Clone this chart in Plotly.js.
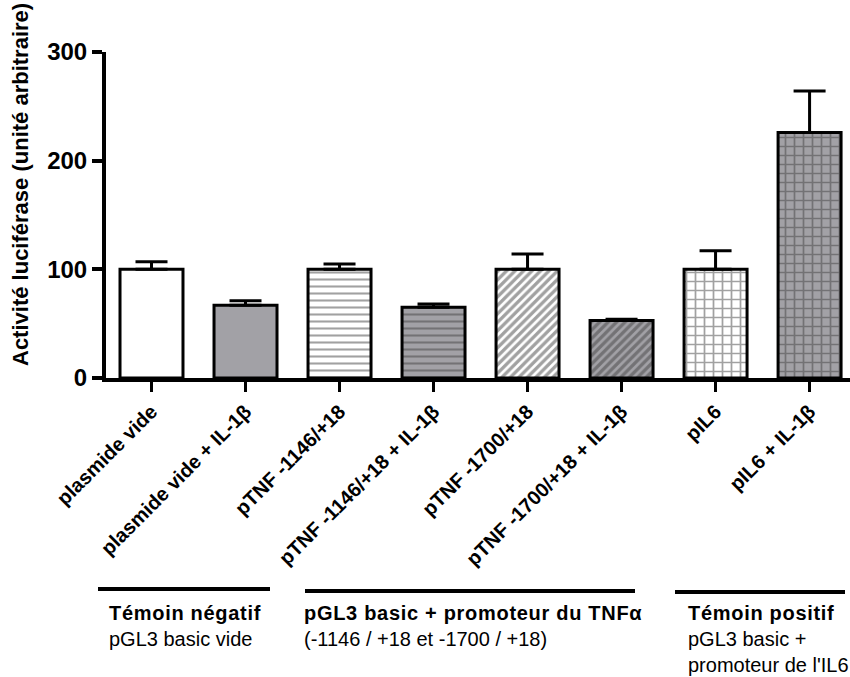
<!DOCTYPE html>
<html>
<head>
<meta charset="utf-8">
<script src="https://cdn.plot.ly/plotly-3.0.1.min.js"></script>
<style>html,body{margin:0;padding:0;background:#fff;}#chart{width:850px;height:677px;}</style>
</head>
<body>
<div id="chart"></div>
<script>
// ---- data ----
const categories = [
  "plasmide vide",
  "plasmide vide + IL-1β",
  "pTNF -1146/+18",
  "pTNF -1146/+18 + IL-1β",
  "pTNF -1700/+18",
  "pTNF -1700/+18 + IL-1β",
  "pIL6",
  "pIL6 + IL-1β"
];
const values = [100, 67, 100, 65, 100, 53, 100, 226];
const errorUpper = [107, 71, 105, 68, 114, 54, 117, 264];
const yTicks = [0, 100, 200, 300];
const groupTitles = ["Témoin négatif", "pGL3 basic + promoteur du TNFα", "Témoin positif"];
const groupSubtitles = ["pGL3 basic vide", "(-1146 / +18 et -1700 / +18)", "pGL3 basic +<br>promoteur de l'IL6"];

// ---- styles ----
const WHITE = "#ffffff", GRAY = "#a2a1a6";
const fillColors = [WHITE, GRAY, WHITE, GRAY, WHITE, GRAY, WHITE, GRAY];
const patternShapes = ["", "", "-", "-", "/", "/", "+", "+"];
const patternSizes = [8, 8, 7, 7, 6, 6, 9, 9];
const patternSolidity = [0.3, 0.3, 0.3, 0.3, 0.55, 0.55, 0.35, 0.35];

const errPlus = values.map((v, i) => errorUpper[i] - v);
const xIdx = categories.map((_, i) => i);

const FONT = "Arial, 'Liberation Sans', sans-serif";

const trace = {
  type: "bar",
  x: xIdx,
  y: values,
  width: 0.67,
  marker: {
    color: fillColors,
    line: {color: "#000", width: 3},
    pattern: {
      shape: patternShapes,
      fillmode: "overlay",
      fgcolor: "#000",
      size: patternSizes,
      solidity: patternSolidity
    }
  },
  error_y: {
    type: "data",
    symmetric: false,
    array: errPlus,
    arrayminus: values.map(() => 0),
    color: "#000",
    thickness: 3,
    width: 16
  },
  hoverinfo: "none"
};

// pixel helpers for layout placement (plot area: x 106..850, y 52..378)
const L = 106, R = 850, T = 52, B = 378;
const px = x => (x - L) / (R - L);
const py = y => (B - y) / (B - T);

const groupLines = [[98, 270, 589], [305, 635, 591], [675, 845, 592]];
const groupTextX = [107, 302, 686];

const shapes = groupLines.map(g => ({
  type: "line", xref: "paper", yref: "paper",
  x0: px(g[0]), x1: px(g[1]), y0: py(g[2]), y1: py(g[2]),
  line: {color: "#000", width: 4}
}));

const annotations = groupTitles.map((t, i) => ({
  xref: "paper", yref: "paper",
  x: px(groupTextX[i]), y: py(600),
  xanchor: "left", yanchor: "top", align: "left",
  showarrow: false,
  text: "<b><span style='letter-spacing:0.7px'>" + t + "</span></b><br>" + groupSubtitles[i],
  font: {family: FONT, size: 20, color: "#000"}
}));

annotations.push({
  xref: "paper", yref: "paper",
  x: px(20), y: py(185),
  xanchor: "center", yanchor: "middle",
  textangle: -90, showarrow: false,
  text: "<b>Activité luciférase (unité arbitraire)</b>",
  font: {family: FONT, size: 22, color: "#000"}
});

const layout = {
  width: 850, height: 677,
  margin: {l: L, r: 850 - R, t: T, b: 677 - B, pad: 0},
  paper_bgcolor: "#fff", plot_bgcolor: "#fff",
  showlegend: false,
  font: {family: FONT, color: "#000"},
  xaxis: {
    range: [-0.484, 7.43],
    tickvals: xIdx,
    ticktext: categories,
    tickangle: -45,
    showline: true, linecolor: "#000", linewidth: 4,
    ticks: "outside", ticklen: 10, tickwidth: 3, tickcolor: "#000",
    showgrid: false, zeroline: false,
    tickfont: {family: FONT, size: 20, color: "#000", weight: "bold"}
  },
  yaxis: {
    range: [0, 300],
    tickvals: yTicks,
    ticktext: yTicks.map(String),
    showline: true, linecolor: "#000", linewidth: 4,
    ticks: "outside", ticklen: 10, tickwidth: 4, tickcolor: "#000",
    showgrid: false, zeroline: false,
    tickfont: {family: FONT, size: 24, color: "#000", weight: "bold"}
  },
  shapes: shapes,
  annotations: annotations
};

Plotly.newPlot("chart", [trace], layout, {staticPlot: true, displayModeBar: false});
</script>
</body>
</html>
